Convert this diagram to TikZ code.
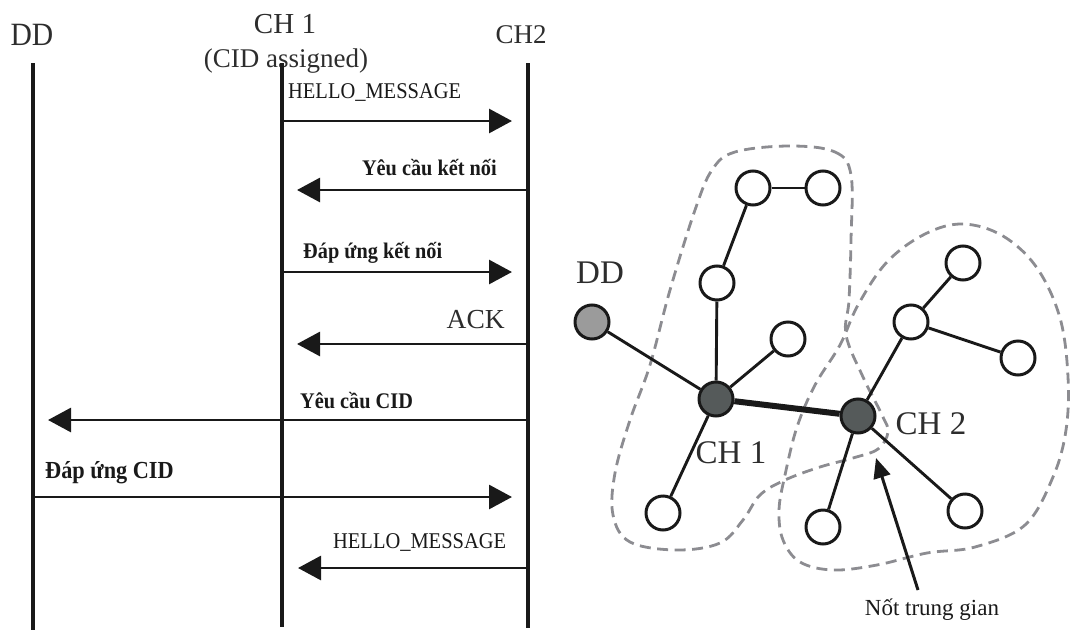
\documentclass[tikz,border=0pt]{standalone}
\usepackage{fontspec}
\setmainfont{Liberation Serif}
\newfontfamily\condfont[FakeStretch=0.91]{Liberation Serif}
\usetikzlibrary{arrows.meta}
\definecolor{ink}{RGB}{25,25,25}
\definecolor{hdrink}{RGB}{45,45,45}
\definecolor{dashgray}{RGB}{140,140,145}
\definecolor{ddfill}{RGB}{155,155,155}
\definecolor{chfill}{RGB}{85,90,90}
\begin{document}
\begin{tikzpicture}[x=1pt,y=-1pt,
  lifeline/.style={line width=3.5pt, draw=ink},
  msg/.style={line width=2.9pt, draw=ink, -{Triangle[length=23pt,width=24pt]}},
  hdr/.style={inner sep=0pt, anchor=base, text=hdrink, font=\fontsize{29}{31}\selectfont},
  lbl/.style={inner sep=0pt, anchor=base west, text=ink, font=\condfont\fontsize{22.5}{24}\selectfont},
  blbl/.style={lbl, font=\condfont\fontsize{22.3}{24}\selectfont\bfseries},
  wnode/.style={circle, draw=ink, line width=3pt, fill=white, minimum size=34pt, inner sep=0pt},
  ddnode/.style={wnode, fill=ddfill},
  chnode/.style={wnode, fill=chfill},
  link/.style={line width=2.9pt, draw=ink},
  trunk/.style={line width=6pt, draw=ink},
  cluster/.style={draw=dashgray, line width=2.8pt, dash pattern=on 11pt off 6.5pt},
  big/.style={inner sep=0pt, anchor=base, text=hdrink, font=\fontsize{33}{35}\selectfont},
  note/.style={inner sep=0pt, anchor=base, text=ink, font=\fontsize{23}{25}\selectfont},
  pointer/.style={line width=3pt, draw=ink, -{Triangle[length=20pt,width=17pt]}},
]
\useasboundingbox (0,0) rectangle (1070,637);

% ---------------- sequence diagram ----------------
\node[hdr, font=\condfont\fontsize{32.5}{34}\selectfont] (hDD) at (32,45) {DD};
\node[hdr] (hCH1) at (285,33) {CH 1};
\node[hdr, font=\fontsize{27}{29}\selectfont] (hCID) at (286,67) {(CID assigned)};
\node[hdr, font=\fontsize{27}{29}\selectfont] (hCH2) at (521,43) {CH2};

\coordinate (ddTop) at (33,63);  \coordinate (ddBot) at (33,630);
\coordinate (c1Top) at (282,63); \coordinate (c1Bot) at (282,627);
\coordinate (c2Top) at (528,63); \coordinate (c2Bot) at (528,628);
\draw[lifeline] (ddTop) -- (ddBot);
\draw[lifeline] (c1Top) -- (c1Bot);
\draw[lifeline] (c2Top) -- (c2Bot);

\coordinate (m1a) at (282,121); \coordinate (m1b) at (512,121);
\coordinate (m2a) at (528,190); \coordinate (m2b) at (297,190);
\coordinate (m3a) at (282,272); \coordinate (m3b) at (512,272);
\coordinate (m4a) at (528,344); \coordinate (m4b) at (297,344);
\coordinate (m5a) at (528,420); \coordinate (m5b) at (48,420);
\coordinate (m6a) at (33,497);  \coordinate (m6b) at (512,497);
\coordinate (m7a) at (528,568); \coordinate (m7b) at (298,568);
\draw[msg] (m1a) -- (m1b);
\draw[msg] (m2a) -- (m2b);
\draw[msg] (m3a) -- (m3b);
\draw[msg] (m4a) -- (m4b);
\draw[msg] (m5a) -- (m5b);
\draw[msg] (m6a) -- (m6b);
\draw[msg] (m7a) -- (m7b);

\node[lbl] (l1) at (288,98) {HELLO\_MESSAGE};
\node[blbl, anchor=base east] (l2) at (497,175) {Yêu cầu kết nối};
\node[blbl] (l3) at (303,258) {Đáp ứng kết nối};
\node[hdr, anchor=base east, font=\fontsize{27.5}{29}\selectfont] (l4) at (505,328) {ACK};
\node[blbl] (l5) at (300,408) {Yêu cầu CID};
\node[blbl, font=\condfont\fontsize{24.5}{26}\selectfont\bfseries] (l6) at (45,478) {Đáp ứng CID};
\node[lbl] (l7) at (333,548) {HELLO\_MESSAGE};

% ---------------- cluster graph ----------------
\draw[cluster] plot[smooth cycle, tension=0.6] coordinates {
 (790,146) (835,152) (851,175) (851,240) (849,300) (846,335) (863,377)
 (882,415) (888,432) (878,449) (853,458) (820,467) (785,480) (760,495)
 (743,520) (720,543) (677,550) (630,542) (613,515) (615,473) (630,420)
 (650,365) (670,290) (695,210) (712,170) (735,152)};
\draw[cluster] plot[smooth cycle, tension=0.6] coordinates {
 (963,224) (1003,236) (1037,268) (1060,318) (1068,377) (1066,430)
 (1053,477) (1025,525) (975,547) (927,553) (877,565) (833,570)
 (800,562) (783,540) (779,510) (785,475) (797,427) (815,385)
 (840,345) (858,305) (887,262) (925,234)};

\node[ddnode] (rdd) at (592,322) {};
\node[chnode] (rch1) at (716,399) {};
\node[chnode] (rch2) at (858,416) {};
\node[wnode] (ntl) at (753,188) {};
\node[wnode] (ntr) at (823,188) {};
\node[wnode] (nmid) at (717,283) {};
\node[wnode] (nr1) at (788,339) {};
\node[wnode] (nbl1) at (663,513) {};
\node[wnode] (n2a) at (911,322) {};
\node[wnode] (n2top) at (963,263) {};
\node[wnode] (n2r) at (1018,358) {};
\node[wnode] (n2bl) at (823,527) {};
\node[wnode] (n2br) at (965,511) {};

\draw[link] (ntl) -- (ntr);
\draw[link] (ntl) -- (nmid);
\draw[link] (nmid) -- (rch1);
\draw[link] (rdd) -- (rch1);
\draw[link] (rch1) -- (nr1);
\draw[link] (rch1) -- (nbl1);
\draw[trunk] (rch1) -- (rch2);
\draw[link] (rch2) -- (n2a);
\draw[link] (n2a) -- (n2top);
\draw[link] (n2a) -- (n2r);
\draw[link] (rch2) -- (n2bl);
\draw[link] (rch2) -- (n2br);

\node[big] (tDD) at (600,283) {DD};
\node[big] (tCH1) at (731,463) {CH 1};
\node[big] (tCH2) at (931,434) {CH 2};

\node[note] (ntg) at (932,615) {Nốt trung gian};
\coordinate (ntgTail) at (918,590);
\coordinate (ntgTip) at (876,458);
\draw[pointer] (ntgTail) -- (ntgTip);
\end{tikzpicture}
\end{document}
